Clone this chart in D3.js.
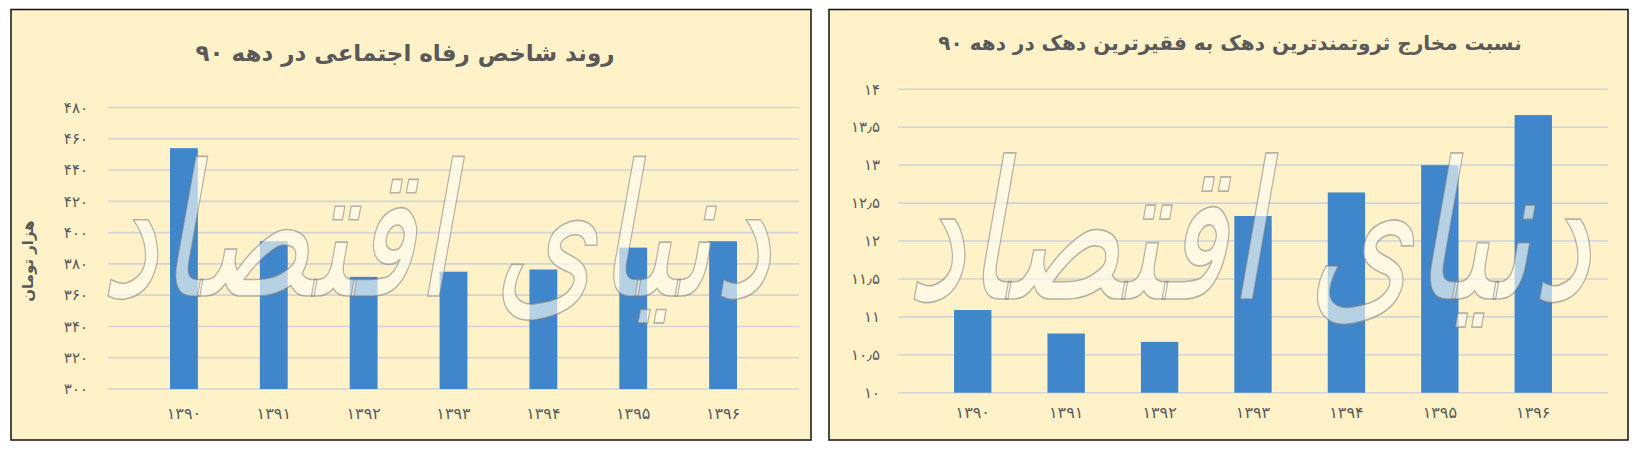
<!DOCTYPE html>
<html>
<head>
<meta charset="utf-8">
<script src="https://cdn.jsdelivr.net/npm/d3@7/dist/d3.min.js"></script>
<style>
  html, body { margin: 0; padding: 0; background: #ffffff; }
  svg { display: block; }
  text { font-family: "DejaVu Sans", "Noto Sans", sans-serif; }
</style>
</head>
<body>
<svg id="chart" width="1638" height="452"></svg>
<script>
// ---- Data ----
const years = ["۱۳۹۰", "۱۳۹۱", "۱۳۹۲", "۱۳۹۳", "۱۳۹۴", "۱۳۹۵", "۱۳۹۶"];
const welfareValues = [454, 394.5, 371.7, 375, 376.4, 390.4, 394.5];
const ratioValues = [11.09, 10.78, 10.67, 12.33, 12.64, 13.0, 13.66];
const welfareTicks = [300, 320, 340, 360, 380, 400, 420, 440, 460, 480];
const ratioTicks = [10, 10.5, 11, 11.5, 12, 12.5, 13, 13.5, 14];
const leftTitle = "روند شاخص رفاه اجتماعی در دهه ۹۰";
const rightTitle = "نسبت مخارج ثروتمندترین دهک به فقیرترین دهک در دهه ۹۰";
const leftAxisTitle = "هزار تومان";
const watermark = "دنیای اقتصاد";

const faDigits = "۰۱۲۳۴۵۶۷۸۹";
function toFa(v) {
  return String(v).replace(/[0-9]/g, d => faDigits[+d]).replace(".", "٫");
}

const svg = d3.select("#chart");
const BG = "#FFF2C8", BAR = "#3F86CB", GRID = "#D2D4D8", TXT = "#595959";

function panel(opt) {
  const g = svg.append("g");
  g.append("rect")
    .attr("x", opt.box[0]).attr("y", opt.box[1])
    .attr("width", opt.box[2]).attr("height", opt.box[3])
    .attr("fill", BG).attr("stroke", "#111").attr("stroke-width", 1.5);

  const x = d3.scaleBand().domain(opt.cats).range(opt.xr).padding(opt.pad);
  const y = d3.scaleLinear().domain(opt.dom).range(opt.yr);

  // gridlines
  g.append("g").selectAll("line").data(opt.ticks).join("line")
    .attr("x1", opt.xr[0]).attr("x2", opt.xr[1])
    .attr("y1", d => y(d)).attr("y2", d => y(d))
    .attr("stroke", GRID).attr("stroke-width", 1.6);

  // y labels
  g.append("g").selectAll("text").data(opt.ticks).join("text")
    .attr("x", opt.labelX).attr("y", d => y(d)).attr("dy", "0.35em")
    .attr("text-anchor", "end").attr("fill", TXT).attr("font-size", 15)
    .attr("letter-spacing", 1)
    .text(d => toFa(d));

  // bars
  g.append("g").selectAll("rect").data(opt.vals).join("rect")
    .attr("x", (d, i) => x(opt.cats[i]))
    .attr("width", x.bandwidth())
    .attr("y", d => y(d))
    .attr("height", d => y(opt.dom[0]) - y(d))
    .attr("fill", BAR);

  // x labels
  g.append("g").selectAll("text").data(opt.cats).join("text")
    .attr("x", d => x(d) + x.bandwidth() / 2).attr("y", opt.xLabelY)
    .attr("dy", "0.35em").attr("text-anchor", "middle")
    .attr("fill", TXT).attr("font-size", 16).attr("letter-spacing", 3)
    .text(d => d);

  // title
  g.append("text").attr("x", opt.titlePos[0]).attr("y", opt.titlePos[1])
    .attr("text-anchor", "middle").attr("fill", TXT)
    .attr("font-size", opt.titleSize).attr("font-weight", "bold")
    .attr("direction", "rtl").text(opt.title);

  // watermark (logo text), fitted into its box by a transform
  const wm = g.append("text")
    .attr("direction", "rtl").attr("text-anchor", "start")
    .attr("font-size", 100).attr("font-style", "italic")
    .attr("fill", "#FFFDF3").attr("fill-opacity", 0.62)
    .attr("stroke", "#7a7a7a").attr("stroke-opacity", 0.55)
    .attr("stroke-width", 0.9)
    .text(watermark);
  const bb = wm.node().getBBox();
  const [x0, y0, x1, y1] = opt.wm;
  const sx = (x1 - x0) / bb.width, sy = (y1 - y0) / bb.height;
  wm.attr("transform",
    `translate(${x0 - bb.x * sx},${y0 - bb.y * sy}) scale(${sx},${sy})`);
  return g;
}

const left = panel({
  box: [11, 9.5, 800, 430.5],
  cats: years, vals: welfareValues, ticks: welfareTicks,
  dom: [300, 480], xr: [108, 799], yr: [389, 107.5], pad: 0.69,
  labelX: 88, xLabelY: 413,
  title: leftTitle, titlePos: [405, 61], titleSize: 23,
  wm: [100, 125, 772, 340]
});
left.append("text")
  .attr("transform", "translate(33,261) rotate(-90)")
  .attr("text-anchor", "middle").attr("fill", TXT)
  .attr("font-size", 15).attr("font-weight", "bold").attr("direction", "rtl")
  .text(leftAxisTitle);

panel({
  box: [829, 9.5, 799, 430.5],
  cats: years, vals: ratioValues, ticks: ratioTicks,
  dom: [10, 14], xr: [898, 1608], yr: [392.7, 89.3], pad: 0.6,
  labelX: 880, xLabelY: 412,
  title: rightTitle, titlePos: [1230, 50], titleSize: 20,
  wm: [906, 120, 1592, 345]
});
</script>
</body>
</html>
